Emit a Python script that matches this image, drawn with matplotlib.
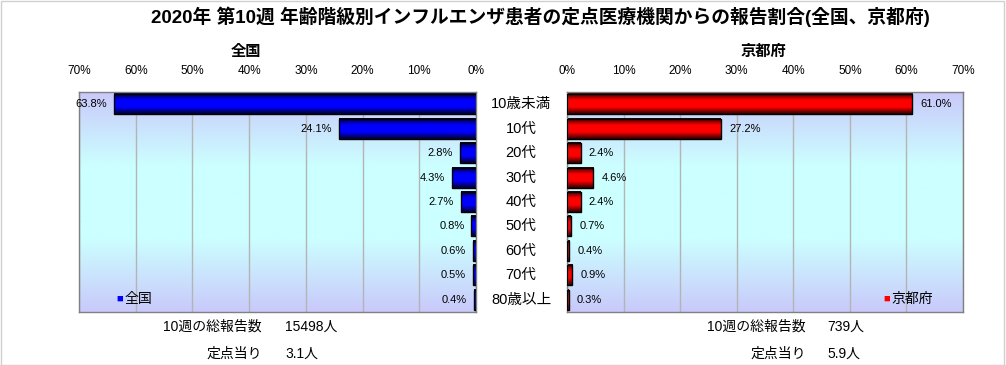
import numpy as np
import matplotlib
matplotlib.use('Agg')
import matplotlib.pyplot as plt
from matplotlib.colors import LinearSegmentedColormap

plt.rcParams['font.family'] = ['Liberation Sans', 'Noto Sans CJK JP']

# data
categories = ['10歳未満', '10代', '20代', '30代', '40代', '50代', '60代', '70代', '80歳以上']
zenkoku = [63.8, 24.1, 2.8, 4.3, 2.7, 0.8, 0.6, 0.5, 0.4]
kyoto = [61.0, 27.2, 2.4, 4.6, 2.4, 0.7, 0.4, 0.9, 0.3]
ticks = [0, 10, 20, 30, 40, 50, 60, 70]
tick_labels = ['0%', '10%', '20%', '30%', '40%', '50%', '60%', '70%']
title = '2020年 第10週 年齢階級別インフルエンザ患者の定点医療機関からの報告割合(全国、京都府)'
total_label = '10週の総報告数'
per_label = '定点当り'
zenkoku_total = '15498人'
zenkoku_per = '3.1人'
kyoto_total = '739人'
kyoto_per = '5.9人'

W, H = 1006, 365
fig = plt.figure(figsize=(W/100, H/100), dpi=100)
fig.patch.set_facecolor('white')

def fx(px):
    return px / W

def fy(py):
    return 1 - py / H

ax_l = fig.add_axes([fx(79), fy(312), fx(476-79), (312-92)/H])
ax_r = fig.add_axes([fx(567), fy(312), fx(963-567), (312-92)/H])

bg_cmap = LinearSegmentedColormap.from_list('bg', ['#c9c9fb', '#ccffff', '#ccffff', '#c9c9fb'])
blue_cmap = LinearSegmentedColormap.from_list('bl', ['#000028', '#0000ff', '#0000ff', '#000028'])
red_cmap = LinearSegmentedColormap.from_list('rd', ['#280000', '#ff0000', '#ff0000', '#280000'])
grad = np.linspace(0, 1, 256).reshape(-1, 1)

y = np.arange(len(categories))

def draw_panel(ax, vals, cmap, reverse, name, legend_col):
    ax.imshow(grad, cmap=bg_cmap, aspect='auto', extent=[0, 1, 0, 1],
              transform=ax.transAxes, zorder=0)
    bars = ax.barh(y, vals, height=0.82, color='none', edgecolor='black',
                   linewidth=1, zorder=3)
    for b, v in zip(bars, vals):
        x0, y0 = b.get_x(), b.get_y()
        ax.imshow(grad, cmap=cmap, aspect='auto', zorder=2,
                  extent=[x0, x0 + b.get_width(), y0 + b.get_height(), y0])
        ax.annotate(f'{v:.1f}%', (v, b.get_y() + b.get_height()/2),
                    xytext=(-5 if reverse else 6, 0), textcoords='offset points',
                    ha='right' if reverse else 'left', va='center',
                    fontsize=8, zorder=4)
    if reverse:
        ax.set_xlim(70, 0)
    else:
        ax.set_xlim(0, 70)
    ax.set_ylim(len(categories) - 0.5, -0.5)
    ax.set_xticks(ticks)
    ax.set_xticklabels(tick_labels)
    ax.xaxis.tick_top()
    ax.tick_params(axis='x', direction='in', length=3, colors='#808080',
                   labelcolor='black', labelsize=8.5, pad=11)
    ax.set_yticks([])
    ax.grid(axis='x', color='#b4b4b4', linewidth=1, zorder=1)
    ax.set_axisbelow(True)
    for s in ax.spines.values():
        s.set_color('#808080')
        s.set_linewidth(1)
    # legend
    ax.text(legend_col, 0.06, '■', transform=ax.transAxes, fontsize=8,
            color='#0000ff' if reverse else '#ff0000', va='center', ha='left',
            zorder=5)
    ax.text(legend_col + 0.02, 0.06, name, transform=ax.transAxes,
            fontsize=10, va='center', ha='left', zorder=5)

draw_panel(ax_l, zenkoku, blue_cmap, True, '全国', 0.094)
draw_panel(ax_r, kyoto, red_cmap, False, '京都府', 0.8)

# category labels in the middle
for i, c in enumerate(categories):
    ax_l.annotate(c, xy=(fx(521), i), xycoords=('figure fraction', 'data'),
                  ha='center', va='center', fontsize=10.5, annotation_clip=False)

fig.text(fx(540), fy(17), title, ha='center', va='center', fontsize=13.5,
         fontweight='bold')
fig.text(fx(246), fy(52), '全国', ha='center', va='center', fontsize=11,
         fontweight='bold')
fig.text(fx(763), fy(52), '京都府', ha='center', va='center', fontsize=11,
         fontweight='bold')

fig.text(fx(262), fy(327), total_label, ha='right', va='center', fontsize=10)
fig.text(fx(285), fy(327), zenkoku_total, ha='left', va='center', fontsize=10)
fig.text(fx(262), fy(354), per_label, ha='right', va='center', fontsize=10)
fig.text(fx(285), fy(354), zenkoku_per, ha='left', va='center', fontsize=10)
fig.text(fx(806), fy(327), total_label, ha='right', va='center', fontsize=10)
fig.text(fx(827), fy(327), kyoto_total, ha='left', va='center', fontsize=10)
fig.text(fx(806), fy(354), per_label, ha='right', va='center', fontsize=10)
fig.text(fx(827), fy(354), kyoto_per, ha='left', va='center', fontsize=10)

# light frame around the whole chart
fig.patches.append(plt.Rectangle((0.001, 0.001), 0.997, 0.997, transform=fig.transFigure,
                                 fill=False, edgecolor='#d0d0d0', linewidth=1))

fig.savefig('out.png', dpi=100)
